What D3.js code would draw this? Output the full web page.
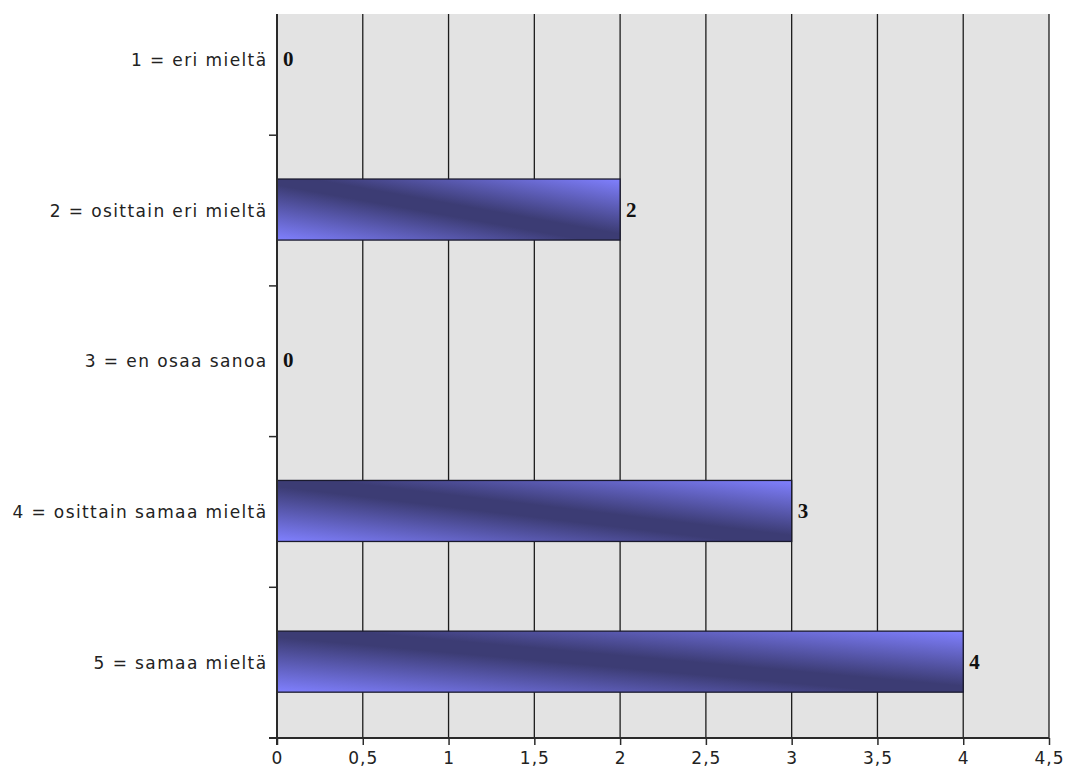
<!DOCTYPE html>
<html>
<head>
<meta charset="utf-8">
<script src="https://cdn.jsdelivr.net/npm/d3@7"></script>
<style>
  html, body { margin: 0; padding: 0; background: #ffffff; }
  svg { display: block; }
</style>
</head>
<body>
<div id="chart"></div>
<script>
// Survey answers and their counts
const categories = [
  "1 = eri mieltä",
  "2 = osittain eri mieltä",
  "3 = en osaa sanoa",
  "4 = osittain samaa mieltä",
  "5 = samaa mieltä"
];
const counts = [0, 2, 0, 3, 4];
const xTicks = [0, 0.5, 1, 1.5, 2, 2.5, 3, 3.5, 4, 4.5];

const width = 1065, height = 772;
const plotLeft = 277, plotRight = 1049, plotTop = 14, plotBottom = 738;
const labelFont = "'DejaVu Sans', Verdana, sans-serif";

const svg = d3.select("#chart").append("svg")
  .attr("width", width).attr("height", height);

const x = d3.scaleLinear().domain([0, 4.5]).range([plotLeft, plotRight]);
// rows continue above the visible plot top, so the first row is partly clipped
const y = d3.scaleBand().domain(categories).range([-15.5, plotBottom]).padding(0);

// bar fill: diagonal light-dark-light blue
const defs = svg.append("defs");
const grad = defs.append("linearGradient")
  .attr("id", "barGrad")
  .attr("x1", 0).attr("y1", 1).attr("x2", 1).attr("y2", 0);
grad.append("stop").attr("offset", "0%").attr("stop-color", "#8080ff");
grad.append("stop").attr("offset", "45%").attr("stop-color", "#3c3c74");
grad.append("stop").attr("offset", "55%").attr("stop-color", "#3c3c74");
grad.append("stop").attr("offset", "100%").attr("stop-color", "#8080ff");

defs.append("clipPath").attr("id", "plotClip")
  .append("rect")
  .attr("x", plotLeft).attr("y", plotTop)
  .attr("width", plotRight - plotLeft).attr("height", plotBottom - plotTop);

// plot background
svg.append("rect")
  .attr("x", plotLeft).attr("y", plotTop)
  .attr("width", plotRight - plotLeft).attr("height", plotBottom - plotTop)
  .attr("fill", "#e3e3e3");

// vertical grid lines
svg.append("g")
  .selectAll("line")
  .data(xTicks.filter(d => d > 0))
  .join("line")
  .attr("x1", d => x(d)).attr("x2", d => x(d))
  .attr("y1", plotTop).attr("y2", plotBottom)
  .attr("stroke", "#1c1c1c").attr("stroke-width", 1.3);

// bars
const barFrac = 0.405;
const bars = svg.append("g").attr("clip-path", "url(#plotClip)");
bars.selectAll("rect")
  .data(categories.map((c, i) => ({ c, v: counts[i] })).filter(d => d.v > 0))
  .join("rect")
  .attr("x", x(0))
  .attr("y", d => y(d.c) + y.bandwidth() * (1 - barFrac) / 2 - 1)
  .attr("width", d => x(d.v) - x(0))
  .attr("height", y.bandwidth() * barFrac)
  .attr("fill", "url(#barGrad)")
  .attr("stroke", "#1a1a2e").attr("stroke-width", 1.3);

// value labels
svg.append("g")
  .selectAll("text")
  .data(categories.map((c, i) => ({ c, v: counts[i] })))
  .join("text")
  .attr("x", d => x(d.v) + 6)
  .attr("y", d => y(d.c) + y.bandwidth() / 2 - 1)
  .attr("dominant-baseline", "central")
  .attr("font-family", "'Liberation Serif', 'DejaVu Serif', serif")
  .attr("font-weight", "bold")
  .attr("font-size", 21)
  .attr("fill", "#111")
  .text(d => d.v);

// left axis
const yAxis = svg.append("g");
yAxis.append("line")
  .attr("x1", plotLeft).attr("x2", plotLeft)
  .attr("y1", plotTop).attr("y2", plotBottom + 7)
  .attr("stroke", "#2a2a2a").attr("stroke-width", 2);
yAxis.selectAll("line.tick")
  .data(categories.slice(1))
  .join("line")
  .attr("class", "tick")
  .attr("x1", plotLeft - 8).attr("x2", plotLeft)
  .attr("y1", d => y(d)).attr("y2", d => y(d))
  .attr("stroke", "#2a2a2a").attr("stroke-width", 1.5);
yAxis.selectAll("text")
  .data(categories)
  .join("text")
  .attr("x", plotLeft - 9.5)
  .attr("y", d => y(d) + y.bandwidth() / 2)
  .attr("text-anchor", "end")
  .attr("dominant-baseline", "central")
  .attr("font-family", labelFont)
  .attr("font-size", 17)
  .attr("letter-spacing", "1.4px")
  .attr("fill", "#222")
  .text(d => d);

// bottom axis
const fmt = d => String(d).replace(".", ",");
const xAxis = d3.axisBottom(x).tickValues(xTicks).tickFormat(fmt).tickSize(7).tickSizeOuter(0);
const gx = svg.append("g")
  .attr("transform", `translate(0,${plotBottom})`)
  .call(xAxis);
gx.select(".domain").remove();
gx.append("line")
  .attr("x1", plotLeft - 8).attr("x2", plotRight)
  .attr("y1", 0).attr("y2", 0)
  .attr("stroke", "#2a2a2a").attr("stroke-width", 2);
gx.selectAll(".tick line").attr("stroke", "#2a2a2a").attr("stroke-width", 1.5);
gx.selectAll(".tick text")
  .attr("y", 14)
  .attr("font-family", labelFont)
  .attr("font-size", 17)
  .attr("letter-spacing", "1px")
  .attr("fill", "#222");
</script>
</body>
</html>
